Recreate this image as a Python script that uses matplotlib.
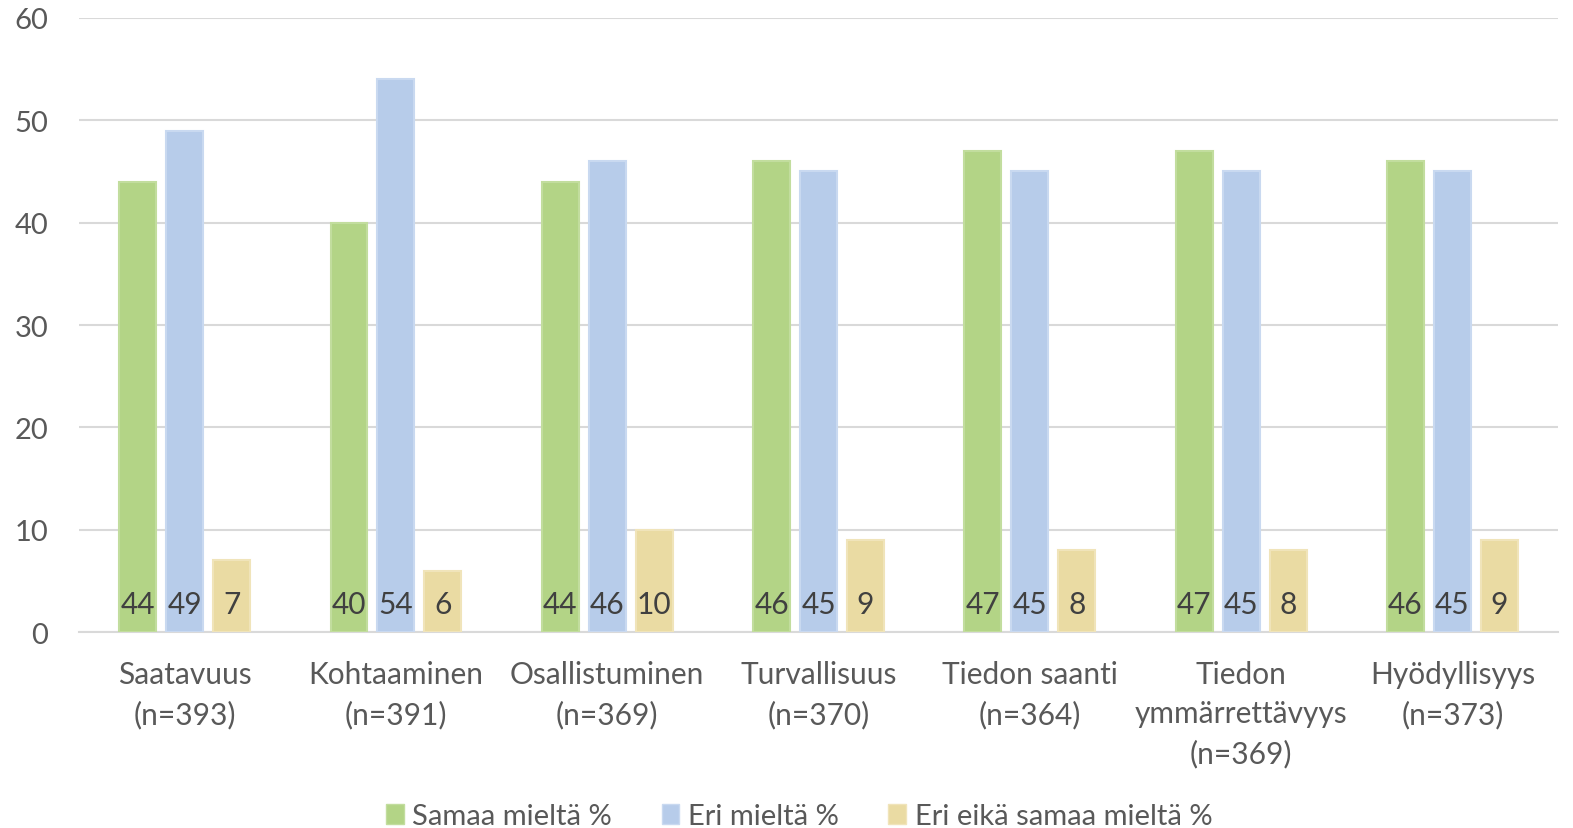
import numpy as np
import matplotlib.pyplot as plt
from matplotlib.patches import Patch

# Datos del gráfico
categorias = ['Saatavuus\n(n=393)', 'Kohtaaminen\n(n=391)', 'Osallistuminen\n(n=369)',
              'Turvallisuus\n(n=370)', 'Tiedon saanti\n(n=364)',
              'Tiedon\nymmärrettävyys\n(n=369)', 'Hyödyllisyys\n(n=373)']
samaa = [44, 40, 44, 46, 47, 47, 46]
eri = [49, 54, 46, 45, 45, 45, 45]
ei_kumpikaan = [7, 6, 10, 9, 8, 8, 9]
series_nimet = ['Samaa mieltä %', 'Eri mieltä %', 'Eri eikä samaa mieltä %']
yticks = [0, 10, 20, 30, 40, 50, 60]

colores = ['#B3D486', '#B7CCEA', '#EADBA3']
bordes = ['#C2DD9E', '#C9D9F0', '#F0E4BA']
gris = '#595959'

plt.rcParams['font.family'] = ['Lato', 'DejaVu Sans']

fig = plt.figure(figsize=(15.73, 8.29), dpi=100)
ax = fig.add_axes([0.0502, 0.2364, 0.9403, 0.7407])

x = np.arange(len(categorias))
ancho = 0.175
paso = 0.222

for k, valores in enumerate([samaa, eri, ei_kumpikaan]):
    pos = x + (k - 1) * paso
    ax.bar(pos, valores, width=ancho, color=colores[k], edgecolor=bordes[k], linewidth=1.5, zorder=3)
    for p, v in zip(pos, valores):
        ax.text(p, 2.7, str(v), ha='center', va='center', fontsize=21.5, color='#404040', zorder=4)

ax.set_ylim(0, 60)
ax.set_xlim(-0.5, len(categorias) - 0.5)
ax.set_yticks(yticks)
ax.set_yticklabels([str(t) for t in yticks], fontsize=21, color=gris)
ax.set_xticks(x)
ax.set_xticklabels(categorias, fontsize=21.5, color=gris, linespacing=1.5)
ax.tick_params(axis='both', length=0)
ax.tick_params(axis='y', pad=22)
ax.tick_params(axis='x', pad=20)
ax.grid(axis='y', color='#D9D9D9', linewidth=1.5, zorder=0)
for s in ['top', 'right', 'left']:
    ax.spines[s].set_visible(False)
ax.spines['bottom'].set_color('#D9D9D9')
ax.spines['bottom'].set_linewidth(1.5)

handles = [Patch(facecolor=colores[k], edgecolor=bordes[k], label=series_nimet[k]) for k in range(3)]
fig.legend(handles=handles, loc='center', bbox_to_anchor=(0.508, 0.014), ncol=3, frameon=False,
           fontsize=21, labelcolor=gris, handlelength=0.6, handleheight=0.7, handletextpad=0.3,
           columnspacing=1.7)

fig.savefig('out.png', dpi=100)
